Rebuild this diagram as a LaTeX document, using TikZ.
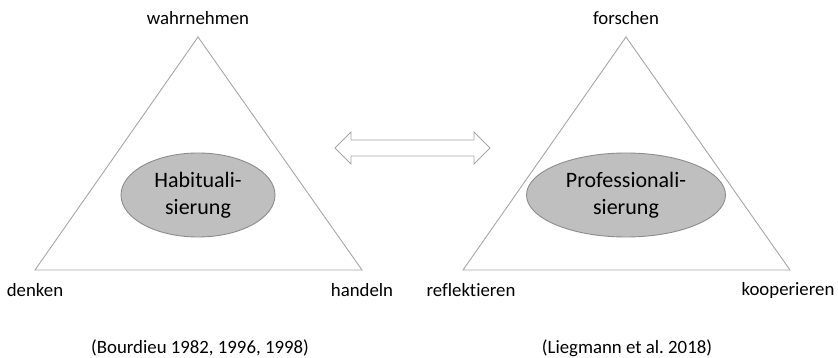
\documentclass[tikz,border=0pt]{standalone}
\usepackage{fontspec}
\setmainfont[Ligatures={NoCommon}]{Carlito}
\usetikzlibrary{shapes.geometric,shapes.arrows}
\definecolor{lineg}{HTML}{A6A6A6}
\definecolor{ellfill}{HTML}{BFBFBF}
\definecolor{ellline}{HTML}{8C8C8C}
\frenchspacing
\begin{document}
\begin{tikzpicture}[x=1pt,y=-1pt,
  lbl/.style={font=\fontsize{18.8}{22}\selectfont, inner sep=0pt, anchor=center},
  tri/.style={draw=lineg, line width=0.9pt, line join=miter},
  core/.style={ellipse, draw=ellline, fill=ellfill, line width=0.9pt, inner sep=0pt,
     font=\fontsize{22}{27}\selectfont, align=center},
  biarrow/.style={draw=lineg, fill=white, line width=0.9pt}]
\useasboundingbox (0,0) rectangle (838,358);
% left triangle
\coordinate (LA) at (198,37);
\coordinate (LB) at (35,270);
\coordinate (LC) at (362,270);
\draw[tri] (LA) -- (LB) -- (LC) -- cycle;
\node[core, minimum width=154, minimum height=84] (hab) at (198,195) {Habituali-\\sierung};
\node[lbl] (wahr) at (198,18) {wahrnehmen};
\node[lbl] (denk) at (35,290) {denken};
\node[lbl] (hand) at (362,290) {handeln};
\node[lbl] (bour) at (200,348) {(Bourdieu 1982, 1996, 1998)};
% right triangle
\coordinate (RA) at (626,37);
\coordinate (RB) at (463,270);
\coordinate (RC) at (790,270);
\draw[tri] (RA) -- (RB) -- (RC) -- cycle;
\node[core, minimum width=199, minimum height=84] (prof) at (626,195) {Professionali-\\sierung};
\node[lbl] (forsch) at (626,18) {forschen};
\node[lbl] (refl) at (471,290) {reflektieren};
\node[lbl] (koop) at (788,290) {kooperieren};
\node[lbl] (lieg) at (627,348) {(Liegmann et al.\ 2018)};
% double arrow
\coordinate (AL) at (335,148);
\coordinate (AR) at (490,148);
\draw[biarrow] (AL) -- ++(16,-16) -- ++(0,8) -- (474,140) -- ++(0,-8) -- (AR)
  -- (474,164) -- ++(0,-8) -- (351,156) -- ++(0,8) -- cycle;
\end{tikzpicture}
\end{document}
